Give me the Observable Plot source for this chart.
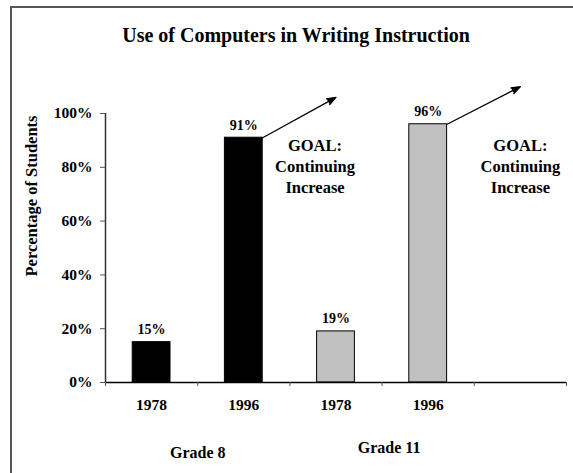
<!DOCTYPE html>
<html><head><meta charset="utf-8">
<script src="https://cdn.jsdelivr.net/npm/d3@7"></script>
<script src="https://cdn.jsdelivr.net/npm/@observablehq/plot@0.6"></script>
<style>
body{margin:0;background:#fff}
#wrap{position:relative;width:573px;height:473px;overflow:hidden}
#border{position:absolute;left:10px;top:6px;width:700px;height:700px;border-left:2px solid #555;border-top:2px solid #555;pointer-events:none}
</style></head><body><div id="wrap"><div id="chart"></div><div id="border"></div></div>
<script>
const title = "Use of Computers in Writing Instruction";
const yLabel = "Percentage of Students";
const grades = ["Grade 8", "Grade 8", "Grade 11", "Grade 11"];
const years = ["1978", "1996", "1978", "1996"];
const values = [0.15, 0.91, 0.19, 0.96];
const groupNames = ["Grade 8", "Grade 11"];
const goalText = "GOAL:\nContinuing\nIncrease";
const goalTops = [1.06, 1.10];
const yTicks = [0, 0.2, 0.4, 0.6, 0.8, 1.0];

const slots = 5;
const barHalf = 0.205;
const pct = d3.format(".0%");
const bars = years.map((year, i) => ({i, year, grade: grades[i], value: values[i]}));
const lastBars = groupNames.map(g => bars.filter(b => b.grade === g).at(-1));
const arrows = lastBars.map((b, k) => ({grade: b.grade, from: b.i, value: b.value, slot: b.i + 1, to: goalTops[k]}));
const groupCenters = groupNames.map(g => ({grade: g, x: d3.mean(bars.filter(b => b.grade === g), b => b.i + 0.5)}));

const font = {fontFamily: "Liberation Serif", fontWeight: "bold"};

const chart = Plot.plot({
  width: 573, height: 473,
  marginLeft: 105, marginRight: 7, marginTop: 113, marginBottom: 91,
  style: {fontFamily: "Liberation Serif", fontWeight: "bold", color: "black", background: "white"},
  x: {type: "linear", domain: [0, slots]},
  y: {domain: [0, 1]},
  color: {domain: groupNames, range: ["#000000", "#c0c0c0"]},
  marks: [
    Plot.rectY(bars, {x1: d => d.i + 0.5 - barHalf, x2: d => d.i + 0.5 + barHalf, y: "value", fill: "grade", stroke: "black", strokeWidth: 1}),
    Plot.ruleX([0], {stroke: "#333", strokeWidth: 1.5}),
    Plot.ruleY([0], {stroke: "black", strokeWidth: 1.6}),
    Plot.axisY({ticks: yTicks, tickFormat: pct, tickSize: 5, tickPadding: 8, fontSize: 15.5, ...font, label: null, stroke: "#555"}),
    Plot.axisX({ticks: d3.range(slots + 1), tickFormat: () => "", tickSize: 4, label: null, stroke: "#555"}),
    Plot.axisX({ticks: bars.map(b => b.i + 0.5), tickFormat: d => years[Math.floor(d)], tickSize: 0, tickPadding: 16, fontSize: 15.5, ...font, label: null}),
    Plot.text(bars, {x: d => d.i + 0.5, y: "value", text: d => pct(d.value), dy: -8, lineAnchor: "bottom", fontSize: 14, ...font}),
    Plot.arrow(arrows, {x1: d => d.from + 0.5 + barHalf, y1: "value", x2: d => d.slot + 0.5, y2: "to", stroke: "black", fill: "black", strokeWidth: 1.3, headLength: 11, headAngle: 40}),
    Plot.text(arrows.filter(a => a.grade === "Grade 8"), {x: d => d.slot + 0.5, frameAnchor: "top", text: () => goalText, lineAnchor: "top", lineHeight: 1.27, dy: 23, dx: -21, fontSize: 16.5, ...font}),
    Plot.text(arrows.filter(a => a.grade === "Grade 11"), {x: d => d.slot + 0.5, frameAnchor: "top", text: () => goalText, lineAnchor: "top", lineHeight: 1.27, dy: 23, dx: 0, fontSize: 16.5, ...font}),
    Plot.text(groupCenters.filter(g => g.grade === "Grade 8"), {x: "x", frameAnchor: "bottom", text: "grade", lineAnchor: "bottom", dy: 75, fontSize: 16, ...font}),
    Plot.text(groupCenters.filter(g => g.grade === "Grade 11"), {x: "x", frameAnchor: "bottom", text: "grade", lineAnchor: "bottom", dy: 70, dx: 7, fontSize: 16, ...font}),
    Plot.text([yLabel], {frameAnchor: "left", rotate: -90, dx: -74, dy: 28.5, fontSize: 16.5, ...font}),
    Plot.text([title], {frameAnchor: "top", lineAnchor: "bottom", dy: -72, dx: -40, fontSize: 20, ...font})
  ]
});
document.getElementById("chart").appendChild(chart);
</script>
</body></html>
